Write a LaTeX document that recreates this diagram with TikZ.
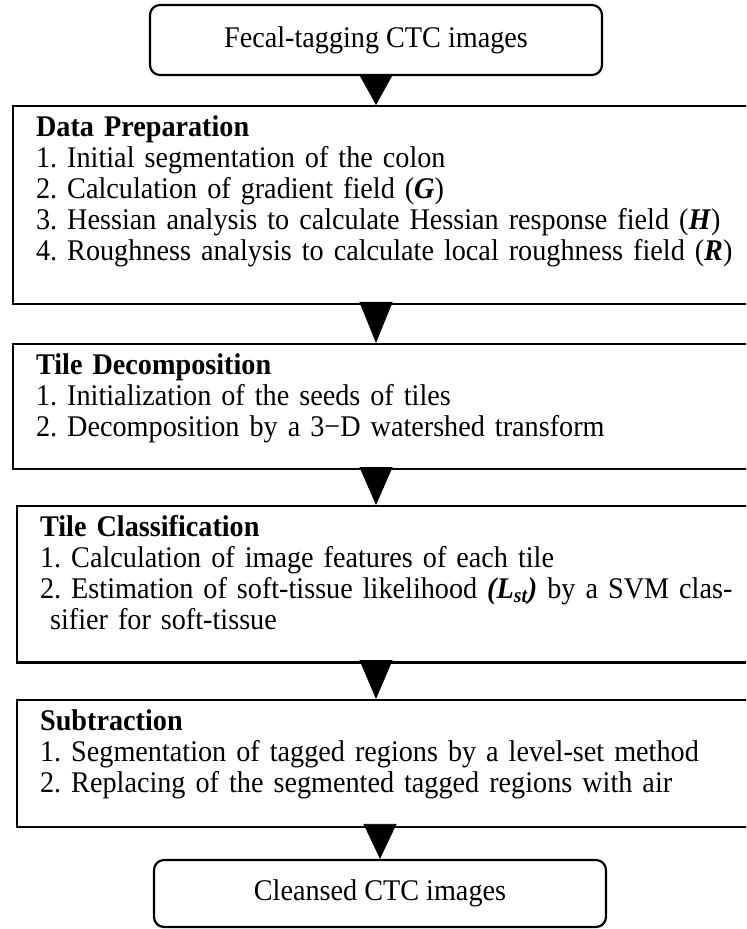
\documentclass[tikz,border=0pt]{standalone}
\usepackage{fontspec}
\setmainfont{Liberation Serif}[FakeStretch=0.94]
\usetikzlibrary{arrows.meta}
\newcommand{\bodyfont}{\fontsize{15pt}{15.5pt}\selectfont\frenchspacing}
\newcommand{\bvec}[1]{\textbf{\textit{#1}}}
\tikzset{
  endnode/.style  = {draw, line width=1.1pt, rounded corners=5pt,
                     minimum width=226pt, minimum height=35pt, font=\bodyfont},
  stagebox/.style = {draw, line width=1.1pt, anchor=north west, align=left,
                     text width=380pt, inner xsep=11.5pt, inner ysep=4.6pt,
                     font=\bodyfont,
                     execute at end node={\rule[-#1]{0pt}{#1}}},
  flow/.style     = {-{Triangle[length=#1, width=16.5pt]}, line width=0.4pt},
}

\begin{document}
\begin{tikzpicture}[x=0.5pt, y=-0.5pt]
    \useasboundingbox (0,0) rectangle (746,929);
    \clip (0,0) rectangle (746,929);

    % --- input and output images ---
    \node[endnode] (input) at (376,40) {Fecal-tagging CTC images};
    \node[endnode, minimum height=33.5pt] (output) at (380,893.5)
      {Cleansed CTC images};

    % --- processing stages ---
    \node[stagebox=17.4pt] (prep) at (12,105)
      {\textbf{Data Preparation}\\
       1. Initial segmentation of the colon\\
       2. Calculation of gradient field (\bvec{G})\\
       3. Hessian analysis to calculate Hessian response field (\bvec{H})\\
       4. Roughness analysis to calculate local roughness field (\bvec{R})};
    \node[stagebox=11.9pt] (decomp) at (12,343)
      {\textbf{Tile Decomposition}\\
       1. Initialization of the seeds of tiles\\
       2. Decomposition by a 3−D watershed transform};
    \node[stagebox=11.9pt] (classif) at (16,505)
      {\textbf{Tile Classification}\\
       1. Calculation of image features of each tile\\
       2. Estimation of soft-tissue likelihood \bvec{(L\textsubscript{st})} by a SVM clas-\\
       \hspace*{5pt}sifier for soft-tissue};
    \node[stagebox=12.9pt] (subtr) at (16,699)
      {\textbf{Subtraction}\\
       1. Segmentation of tagged regions by a level-set method\\
       2. Replacing of the segmented tagged regions with air};

    % --- flow between stages ---
    \draw[flow=15pt] (input) -- (input.south |- prep.north);
    \draw[flow=20.5pt] (input.south |- prep.south) -- (input.south |- decomp.north);
    \draw[flow=19pt] (input.south |- decomp.south) -- (input.south |- classif.north);
    \draw[flow=19.5pt] (input.south |- classif.south) -- (input.south |- subtr.north);
    \draw[flow=17.5pt] (output.north |- subtr.south) -- (output);
\end{tikzpicture}
\end{document}
